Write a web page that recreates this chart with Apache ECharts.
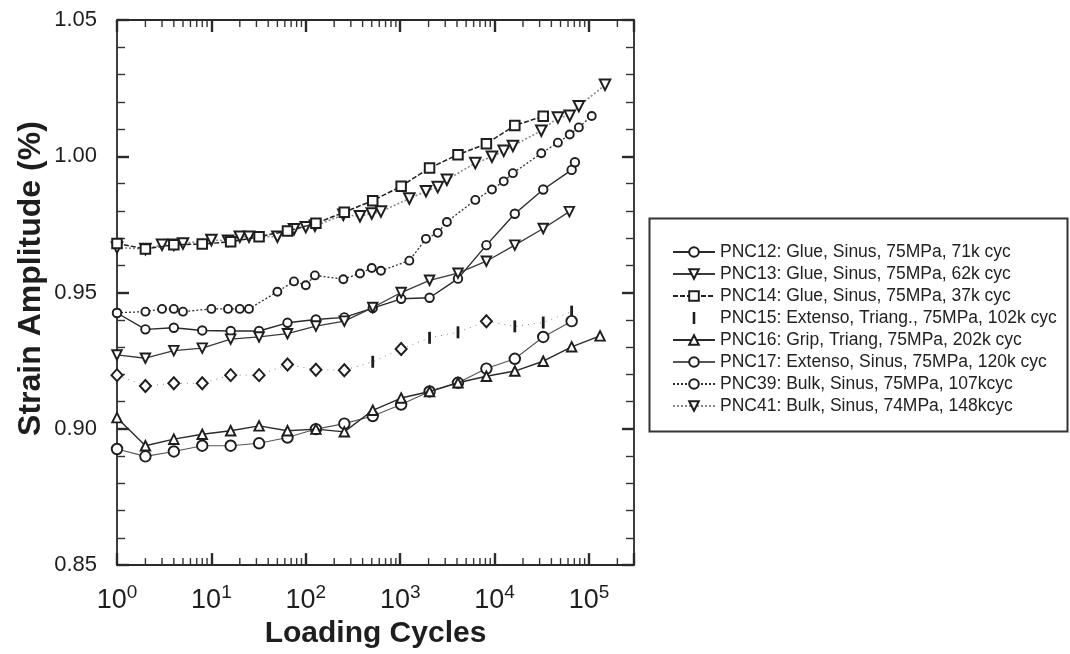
<!DOCTYPE html>
<html><head><meta charset="utf-8">
<script src="https://cdn.jsdelivr.net/npm/echarts@6/dist/echarts.min.js"></script>
<style>html,body{margin:0;padding:0;background:#fff}#c{width:1070px;height:654px}</style>
</head><body><div id="c"></div>
<script>
// ---------- data ----------
const seriesNames = [
  'PNC12: Glue, Sinus, 75MPa, 71k cyc',
  'PNC13: Glue, Sinus, 75MPa, 62k cyc',
  'PNC14: Glue, Sinus, 75MPa, 37k cyc',
  'PNC15: Extenso, Triang., 75MPa, 102k cyc',
  'PNC16: Grip, Triang, 75MPa, 202k cyc',
  'PNC17: Extenso, Sinus, 75MPa, 120k cyc',
  'PNC39: Bulk, Sinus, 75MPa, 107kcyc',
  'PNC41: Bulk, Sinus, 74MPa, 148kcyc'
];
const pnc12X = [1,2,4,8,16,32,64,128,256,512,1024,2048,4096,8192,16384,32768,65536,71000];
const pnc12Y = [0.9425,0.9365,0.9371,0.9361,0.9359,0.9359,0.9389,0.9401,0.9409,0.9443,0.9477,0.9481,0.9551,0.9674,0.9789,0.9878,0.9950,0.9978];
const pnc13X = [1,2,4,8,16,32,64,128,256,512,1024,2048,4096,8192,16384,32768,62000];
const pnc13Y = [0.9271,0.9259,0.9287,0.9296,0.9329,0.9337,0.9349,0.9377,0.9395,0.9445,0.9500,0.9545,0.9571,0.9615,0.9674,0.9735,0.9797];
const pnc14X = [1,2,4,8,16,32,64,128,256,512,1024,2048,4096,8192,16384,32768];
const pnc14Y = [0.9680,0.9660,0.9675,0.9678,0.9686,0.9705,0.9726,0.9754,0.9795,0.9837,0.9890,0.9957,1.0006,1.0046,1.0113,1.0147];
const pnc15X = [1,2,4,8,16,32,64,128,256,512,1024,2048,4096,8192,16384,32768,65536];
const pnc15Y = [0.9197,0.9157,0.9167,0.9167,0.9197,0.9197,0.9236,0.9217,0.9215,0.9246,0.9293,0.9334,0.9354,0.9395,0.9376,0.9390,0.9430];
const pnc15BarCycles = [512,2048,4096,16384,32768,65536]; // points drawn as bar markers
const pnc16X = [1,2,4,8,16,32,64,128,256,512,1024,2048,4096,8192,16384,32768,65536,131072];
const pnc16Y = [0.9041,0.8938,0.8962,0.8980,0.8993,0.9011,0.8993,0.8999,0.8989,0.9068,0.9113,0.9137,0.9169,0.9193,0.9212,0.9248,0.9301,0.9341];
const pnc17X = [1,2,4,8,16,32,64,128,256,512,1024,2048,4096,8192,16384,32768,65536];
const pnc17Y = [0.8926,0.8899,0.8917,0.8938,0.8938,0.8947,0.8968,0.8999,0.9019,0.9047,0.9089,0.9137,0.9169,0.9221,0.9257,0.9337,0.9395];
const pnc39X = [1,2,3,4,5,10,15,20,25,50,75,100,125,250,375,500,625,1250,1875,2500,3125,6250,9375,12500,15625,31250,46875,62500,78125,107000];
const pnc39Y = [0.9426,0.9430,0.9440,0.9440,0.9430,0.9440,0.9440,0.9440,0.9440,0.9503,0.9541,0.9527,0.9563,0.9549,0.9570,0.9590,0.9580,0.9617,0.9697,0.9719,0.9759,0.9840,0.9878,0.9908,0.9938,1.0011,1.0050,1.0080,1.0106,1.0148];
const pnc41X = [1,2,3,4,5,10,15,20,25,50,75,100,125,250,375,500,625,1250,1875,2500,3125,6250,9375,12500,15625,31250,46875,62500,78125,148000];
const pnc41Y = [0.9665,0.9660,0.9675,0.9675,0.9680,0.9693,0.9690,0.9705,0.9705,0.9705,0.9732,0.9740,0.9745,0.9785,0.9780,0.9790,0.9797,0.9845,0.9872,0.9887,0.9914,0.9975,0.9998,1.0020,1.0038,1.0094,1.0142,1.0149,1.0184,1.0262];

const yMin = 0.85, yMax = 1.05, yStep = 0.05;
const xMin = 1, xMax = 300000;
const xMinorTicks = [];
for (let e = 0; e <= 5; e++) for (let m = 2; m <= 9; m++) { const v = m * Math.pow(10, e); if (v < xMax) xMinorTicks.push(v); }

// ---------- chart ----------
const FONT = 'Liberation Sans, Arial, Helvetica, sans-serif';
const INK = '#1e1e1e';
const pts = (xs, ys) => xs.map((x, i) => [x, ys[i]]);
const open = (w) => ({ color: '#fff', borderColor: INK, borderWidth: w || 1.8 });

const series = [
  { name: seriesNames[0], data: pts(pnc12X, pnc12Y), symbol: 'circle', symbolSize: 8.5,
    itemStyle: open(1.9), lineStyle: { color: '#2a2a2a', width: 1.4 }, z: 5 },
  { name: seriesNames[1], data: pts(pnc13X, pnc13Y), symbol: 'triangle', symbolRotate: 180, symbolSize: 9.5,
    itemStyle: open(1.9), lineStyle: { color: '#3a3a3a', width: 1.3 }, z: 5 },
  { name: seriesNames[2], data: pts(pnc14X, pnc14Y), symbol: 'rect', symbolSize: 9.5,
    itemStyle: open(2), lineStyle: { color: '#222', width: 1.5, type: [5, 2] }, z: 6 },
  { name: seriesNames[3],
    data: pnc15X.map((x, i) => pnc15BarCycles.indexOf(x) >= 0
      ? { value: [x, pnc15Y[i]], symbol: 'rect', symbolSize: [2.8, 12], itemStyle: { color: INK, borderWidth: 0 } }
      : { value: [x, pnc15Y[i]], symbol: 'diamond', symbolSize: [11, 12], itemStyle: { color: '#fff', borderColor: INK, borderWidth: 2 } }),
    symbol: 'rect', symbolSize: [2.8, 12],
    itemStyle: { color: INK }, lineStyle: { color: '#888', width: 1, type: [1, 5] }, z: 4 },
  { name: seriesNames[4], data: pts(pnc16X, pnc16Y), symbol: 'triangle', symbolSize: 9.5,
    itemStyle: open(1.9), lineStyle: { color: '#2a2a2a', width: 1.4 }, z: 5 },
  { name: seriesNames[5], data: pts(pnc17X, pnc17Y), symbol: 'circle', symbolSize: 10.5,
    itemStyle: open(1.9), lineStyle: { color: '#555', width: 1.1 }, z: 4 },
  { name: seriesNames[6], data: pts(pnc39X, pnc39Y), symbol: 'circle', symbolSize: 8,
    itemStyle: open(1.9), lineStyle: { color: '#333', width: 1.3, type: [2, 2] }, z: 4 },
  { name: seriesNames[7], data: pts(pnc41X, pnc41Y), symbol: 'triangle', symbolRotate: 180, symbolSize: 10.5,
    itemStyle: open(2), lineStyle: { color: '#888', width: 1.6, type: [2, 2] }, z: 4 }
].map(s => Object.assign({ type: 'line', showSymbol: true, animation: false, xAxisIndex: 0, yAxisIndex: 0 }, s));

series.push({
  type: 'custom', name: 'xMinor', silent: true, clip: false, z: 3, xAxisIndex: 0, yAxisIndex: 0,
  data: xMinorTicks.map(v => [v, yMin]), encode: { x: 0, y: 1 },
  renderItem: (p, api) => {
    const x = api.value(0);
    const b = api.coord([x, yMin]);
    const t = api.coord([x, yMax]);
    const st = { stroke: '#333', lineWidth: 1.4 };
    return { type: 'group', children: [
      { type: 'line', shape: { x1: b[0], y1: b[1], x2: b[0], y2: b[1] - 7 }, style: st },
      { type: 'line', shape: { x1: t[0], y1: t[1], x2: t[0], y2: t[1] + 7 }, style: st }
    ] };
  }
});

const axisLine = { show: true, lineStyle: { color: '#2a2a2a', width: 1.8 } };
const majorTick = { show: true, inside: true, length: 12, lineStyle: { color: '#2a2a2a', width: 2.4 } };
const isPow10 = v => { const e = Math.round(Math.log10(v)); return Math.abs(Math.pow(10, e) - v) < 1e-6 * v; };

const option = {
  animation: false,
  backgroundColor: '#fff',
  grid: { left: 117, top: 20, width: 517, height: 555 },
  xAxis: [
    { type: 'log', logBase: 10, min: xMin, max: xMax, position: 'bottom',
      axisLine, axisTick: majorTick, splitLine: { show: false },
      axisLabel: { margin: 18,
        formatter: v => isPow10(v) ? '{b|10}{s|' + Math.round(Math.log10(v)) + '}' : '',
        rich: {
          b: { fontFamily: FONT, fontSize: 27, color: INK, lineHeight: 31, verticalAlign: 'bottom' },
          s: { fontFamily: FONT, fontSize: 19, color: INK, lineHeight: 19, verticalAlign: 'top' }
        } },
      name: 'Loading Cycles', nameLocation: 'middle', nameGap: 50,
      nameTextStyle: { fontFamily: FONT, fontSize: 30, fontWeight: 'bold', color: INK } },
    { type: 'log', logBase: 10, min: xMin, max: xMax, position: 'top',
      axisLine, axisTick: majorTick, axisLabel: { show: false }, splitLine: { show: false } }
  ],
  yAxis: [
    { type: 'value', min: yMin, max: yMax, interval: yStep, position: 'left',
      axisLine, axisTick: majorTick,
      minorTick: { show: true, splitNumber: 5, length: 8, lineStyle: { color: '#333', width: 1.4 } },
      splitLine: { show: false }, minorSplitLine: { show: false },
      axisLabel: { margin: 20, fontFamily: FONT, fontSize: 22, color: INK, formatter: v => v.toFixed(2) },
      name: 'Strain Amplitude (%)', nameLocation: 'middle', nameGap: 70, nameRotate: 90,
      nameTextStyle: { fontFamily: FONT, fontSize: 32, fontWeight: 'bold', color: INK, padding: [0, 0, 0, 28] } },
    { type: 'value', min: yMin, max: yMax, interval: yStep, position: 'right',
      axisLine, axisTick: majorTick,
      minorTick: { show: true, splitNumber: 5, length: 8, lineStyle: { color: '#333', width: 1.4 } },
      splitLine: { show: false }, axisLabel: { show: false } }
  ],
  legend: {
    orient: 'vertical', left: 667, top: 238, itemWidth: 42, itemHeight: 12, itemGap: 4,
    textStyle: { fontFamily: FONT, fontSize: 17.5, color: '#222' },
    selectedMode: false,
    data: seriesNames.map((n, i) => i === 3
      ? { name: n, icon: 'path://M0,0L3,0L3,14L0,14Z', itemStyle: { color: INK, borderWidth: 0 } }
      : { name: n })
  },
  graphic: [
    { type: 'rect', shape: { x: 649.5, y: 218.5, width: 418, height: 213 },
      style: { fill: 'none', stroke: '#333', lineWidth: 2 }, silent: true, z: 0 }
  ],
  series
};

const chart = echarts.init(document.getElementById('c'), null, { renderer: 'canvas' });
chart.setOption(option);
</script></body></html>
